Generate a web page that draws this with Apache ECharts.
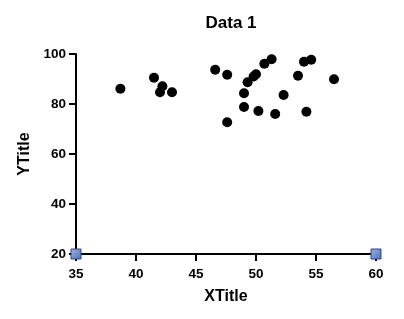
<!DOCTYPE html>
<html><head><meta charset="utf-8">
<script src="https://cdn.jsdelivr.net/npm/echarts@6/dist/echarts.min.js"></script>
<style>html,body{margin:0;padding:0;background:#fff}#c{width:404px;height:319px}</style>
</head><body><div id="c"></div>
<script>
const xValues = [38.7, 41.5, 42.2, 42.0, 43.0, 46.6, 47.6, 47.6, 49.0, 49.0, 49.3, 49.8, 50.0, 50.2, 50.7, 51.3, 51.6, 52.3, 53.5, 54.0, 54.6, 54.2, 56.5];
const yValues = [86.1, 90.5, 87.1, 84.7, 84.7, 93.7, 91.7, 72.7, 84.3, 78.8, 88.7, 91.0, 91.9, 77.2, 96.1, 97.9, 76.0, 83.6, 91.3, 96.9, 97.7, 76.9, 89.9];
const cornerX = [35, 60];
const cornerY = [20, 20];
const xTicks = [35, 40, 45, 50, 55, 60];
const yTicks = [20, 40, 60, 80, 100];

const chart = echarts.init(document.getElementById('c'), null, {renderer: 'canvas'});
const font = 'Liberation Sans, Arial, sans-serif';
chart.setOption({
  animation: false,
  title: {text: 'Data 1', left: 226, top: 10, textAlign: 'center',
    textStyle: {fontFamily: font, fontWeight: 'bold', fontSize: 17, color: '#000'}},
  grid: {left: 76, right: 28, top: 54, bottom: 65, containLabel: false},
  xAxis: {type: 'value', min: xTicks[0], max: xTicks[xTicks.length-1], interval: 5,
    name: 'XTitle', nameLocation: 'middle', nameGap: 35,
    nameTextStyle: {fontFamily: font, fontWeight: 'bold', fontSize: 16, color: '#000'},
    axisLine: {show: true, onZero: false, lineStyle: {color: '#000', width: 2}},
    axisTick: {show: true, inside: false, length: 7, lineStyle: {color: '#000', width: 2}},
    axisLabel: {fontFamily: font, fontWeight: 'bold', fontSize: 13.5, color: '#000', margin: 13},
    splitLine: {show: false}},
  yAxis: {type: 'value', min: yTicks[0], max: yTicks[yTicks.length-1], interval: 20,
    name: 'YTitle', nameLocation: 'middle', nameGap: 38, nameRotate: 90,
    nameTextStyle: {fontFamily: font, fontWeight: 'bold', fontSize: 16, color: '#000'},
    axisLine: {show: true, onZero: false, lineStyle: {color: '#000', width: 2}},
    axisTick: {show: true, inside: false, length: 7, lineStyle: {color: '#000', width: 2}},
    axisLabel: {fontFamily: font, fontWeight: 'bold', fontSize: 13.5, color: '#000', margin: 10},
    splitLine: {show: false}},
  series: [
    {type: 'scatter', symbol: 'circle', symbolSize: 10,
      itemStyle: {color: '#000', opacity: 1},
      data: xValues.map((x, i) => [x, yValues[i]]), z: 3},
    {type: 'scatter', symbol: 'rect', symbolSize: 10,
      itemStyle: {color: new echarts.graphic.LinearGradient(0, 0, 1, 1, [
        {offset: 0, color: '#9bb3e6'}, {offset: 1, color: '#4f6fb5'}]),
        borderColor: '#2c4785', borderWidth: 1, opacity: 1},
      data: cornerX.map((x, i) => [x, cornerY[i]]), z: 4, clip: false}
  ]
});
</script></body></html>
